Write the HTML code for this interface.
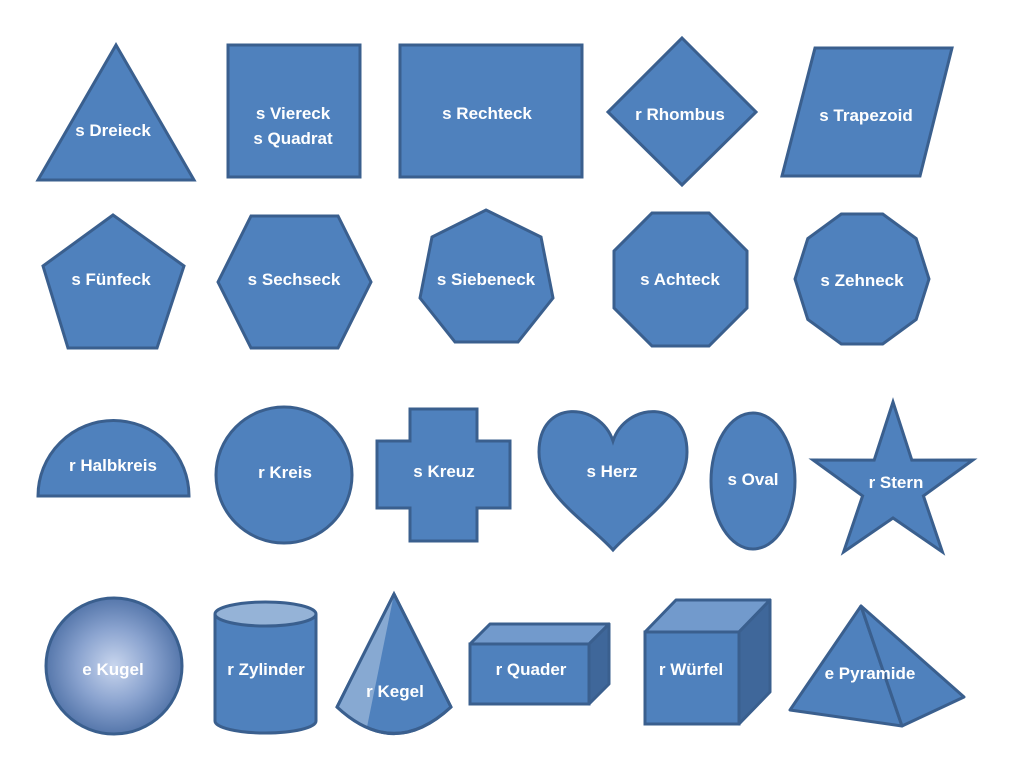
<!DOCTYPE html>
<html><head><meta charset="utf-8"><style>
html,body{margin:0;padding:0;background:#fff;}
svg{display:block;}
text{font-family:"Liberation Sans",sans-serif;font-weight:bold;font-size:17px;fill:#fff;text-anchor:middle;}
.s{fill:#4F81BD;stroke:#3A5F8E;stroke-width:3;stroke-linejoin:miter;}
.r{stroke-linejoin:round;}
</style></head><body>
<svg width="1010" height="771" viewBox="0 0 1010 771" xmlns="http://www.w3.org/2000/svg">
<defs>
<radialGradient id="kg" cx="0.5" cy="0.5" r="0.55">
<stop offset="0" stop-color="#C9D6EE"/>
<stop offset="0.5" stop-color="#8AA3CF"/>
<stop offset="1" stop-color="#4A6DA3"/>
</radialGradient>
</defs>
<polygon class="s" points="116,45 194,180 38,180"/>
<text x="113" y="136">s Dreieck</text>
<rect class="s" x="228" y="45" width="132" height="132"/>
<text x="293" y="119">s Viereck</text>
<text x="293" y="144">s Quadrat</text>
<rect class="s" x="400" y="45" width="182" height="132"/>
<text x="487" y="119">s Rechteck</text>
<polygon class="s" points="682,38 756,112 682,185 608,112"/>
<text x="680" y="120">r Rhombus</text>
<polygon class="s" points="815,48 952,48 920,176 782,176"/>
<text x="866" y="121">s Trapezoid</text>
<polygon class="s" points="113,215 184,266 157,348 68,348 43,266"/>
<text x="111" y="285">s Fünfeck</text>
<polygon class="s" points="218,282 251,216 338,216 371,282 338,348 251,348"/>
<text x="294" y="285">s Sechseck</text>
<polygon class="s" points="486,210 541,237 553,298 518,342 455,342 420,298 432,237"/>
<text x="486" y="285">s Siebeneck</text>
<polygon class="s" points="652,213 709,213 747,251 747,308 709,346 652,346 614,308 614,251"/>
<text x="680" y="285">s Achteck</text>
<polygon class="s" points="882.7,214 916.2,238.6 929,279 916.2,319.4 882.7,344 841.3,344 807.8,319.4 795,279 807.8,238.6 841.3,214"/>
<text x="862" y="286">s Zehneck</text>
<path class="s" d="M38,496 A75.5,75.5 0 0 1 189,496 Z"/>
<text x="113" y="471">r Halbkreis</text>
<circle class="s" cx="284" cy="475" r="68"/>
<text x="285" y="478">r Kreis</text>
<polygon class="s" points="410,409 477,409 477,441 510,441 510,508 477,508 477,541 410,541 410,508 377,508 377,441 410,441"/>
<text x="444" y="477">s Kreuz</text>
<path class="s" d="M613,441 C600,402 539,398 539,452 C539,495 588,522 613,550 C638,522 687,495 687,452 C687,398 626,402 613,441 Z"/>
<text x="612" y="477">s Herz</text>
<ellipse class="s" cx="753" cy="481" rx="42" ry="68"/>
<text x="753" y="485">s Oval</text>
<polygon class="s" points="893,402 911.8,460.1 972.9,460 923.4,495.9 942.4,552 893,518 843.6,552 862.6,495.9 813.1,460 874.2,460.1"/>
<text x="896" y="488">r Stern</text>
<circle cx="114" cy="666" r="68" fill="url(#kg)" stroke="#3A5F8E" stroke-width="3"/>
<text x="113" y="675">e Kugel</text>
<path class="s" d="M215,614 L215,721 A50.5,12 0 0 0 316,721 L316,614"/>
<ellipse cx="265.5" cy="614" rx="50.5" ry="12" fill="#95B3D7" stroke="#3A5F8E" stroke-width="3"/>
<text x="266" y="675">r Zylinder</text>
<path class="s" d="M394,594 L451,707 Q394,760 337,707 Z"/>
<path d="M394,594 L367,727 Q348,720 339,707 Z" fill="#95B3D7" opacity="0.8"/>
<path d="M394,594 L451,707 Q394,760 337,707 Z" fill="none" stroke="#3A5F8E" stroke-width="3" stroke-linejoin="round"/>
<text x="395" y="697">r Kegel</text>
<polygon class="s r" points="470,644 490,624 609,624 589,644" style="fill:#729ACC"/>
<polygon class="s r" points="589,644 609,624 609,684 589,704" style="fill:#3F679A"/>
<rect class="s" x="470" y="644" width="119" height="60"/>
<text x="531" y="675">r Quader</text>
<polygon class="s r" points="645,632 676,600 770,600 739,632" style="fill:#729ACC"/>
<polygon class="s r" points="739,632 770,600 770,692 739,724" style="fill:#3F679A"/>
<rect class="s" x="645" y="632" width="94" height="92"/>
<text x="691" y="675">r Würfel</text>
<polygon class="s r" points="861,606 790,710 902,726"/>
<polygon class="s r" points="861,606 902,726 964,697"/>
<text x="870" y="679">e Pyramide</text>
</svg>
</body></html>
